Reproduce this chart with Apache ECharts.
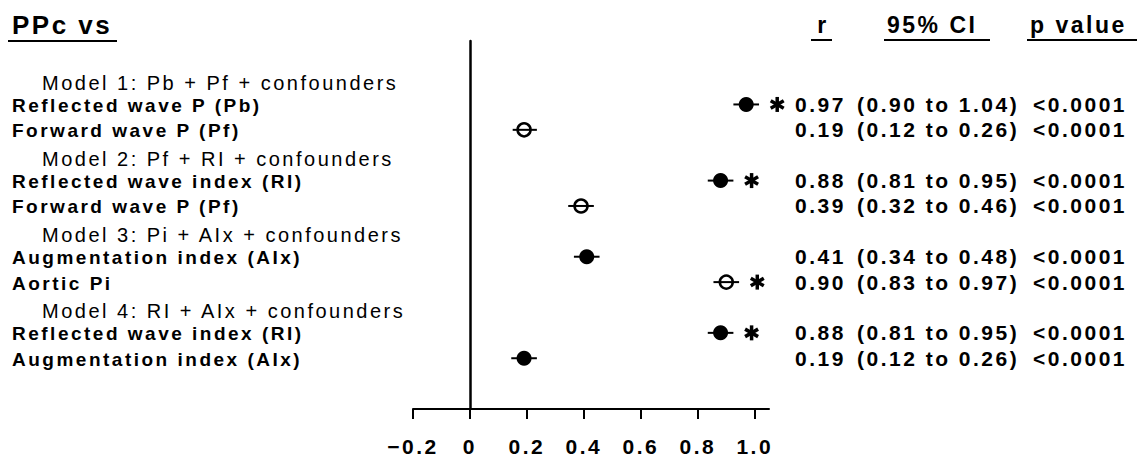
<!DOCTYPE html>
<html>
<head>
<meta charset="utf-8">
<script src="https://cdn.jsdelivr.net/npm/echarts@6/dist/echarts.min.js"></script>
<style>
html,body{margin:0;padding:0;background:#fff;}
#chart{width:1142px;height:457px;}
#chart text{letter-spacing:2.5px !important;}
</style>
</head>
<body>
<div id="chart"></div>
<script>
// ---- data ----
const leftTitle = 'PPc vs';
const columnHeaders = ['r', '95% CI', 'p value'];
const modelHeaders = [
  'Model 1: Pb + Pf + confounders',
  'Model 2: Pf + RI + confounders',
  'Model 3: Pi + AIx + confounders',
  'Model 4: RI + AIx + confounders'
];
const predictors = [
  'Reflected wave P (Pb)', 'Forward wave P (Pf)',
  'Reflected wave index (RI)', 'Forward wave P (Pf)',
  'Augmentation index (AIx)', 'Aortic Pi',
  'Reflected wave index (RI)', 'Augmentation index (AIx)'
];
const rValues = [0.97, 0.19, 0.88, 0.39, 0.41, 0.90, 0.88, 0.19];
const ciLow   = [0.90, 0.12, 0.81, 0.32, 0.34, 0.83, 0.81, 0.12];
const ciHigh  = [1.04, 0.26, 0.95, 0.46, 0.48, 0.97, 0.95, 0.26];
const pValues = ['<0.0001', '<0.0001', '<0.0001', '<0.0001', '<0.0001', '<0.0001', '<0.0001', '<0.0001'];
// whisker ends as drawn in the figure
const whiskerLow  = [0.925, 0.15, 0.835, 0.345, 0.365, 0.855, 0.835, 0.145];
const whiskerHigh = [1.015, 0.235, 0.925, 0.435, 0.455, 0.945, 0.925, 0.235];
const filledMarker = [true, false, true, false, true, false, true, true];
const significant  = [true, false, true, false, false, true, true, false];
const tickValues = [-0.2, 0, 0.2, 0.4, 0.6, 0.8, 1.0];
const tickLabels = ['\u22120.2', '0', '0.2', '0.4', '0.6', '0.8', '1.0'];

// ---- layout helpers ----
const FONT = '"Liberation Sans", Arial, Helvetica, sans-serif';
const rowOf = i => Math.floor(i / 2) * 3 + 1 + (i % 2);
const headerRowOf = g => g * 3;

const labelRows = [];
modelHeaders.forEach((h, g) => {
  labelRows.push({ row: headerRowOf(g), text: h, header: true });
  labelRows.push({ row: rowOf(2 * g), text: predictors[2 * g], header: false });
  labelRows.push({ row: rowOf(2 * g + 1), text: predictors[2 * g + 1], header: false });
});

const pts = rValues.map((r, i) => [r, rowOf(i), whiskerLow[i], whiskerHigh[i], i]);

const chart = echarts.init(document.getElementById('chart'), null, { renderer: 'svg' });

const option = {
  animation: false,
  backgroundColor: '#fff',
  grid: { left: 413, right: 373, top: 41, height: 370 },
  xAxis: {
    type: 'value', min: -0.2, max: 1.05,
    axisLine: { show: true, onZero: false, lineStyle: { color: '#000', width: 2 } },
    axisTick: { show: true, customValues: tickValues, length: 10, lineStyle: { color: '#000', width: 2 } },
    axisLabel: {
      customValues: tickValues, margin: 27, color: '#000',
      fontFamily: FONT, fontWeight: 'bold', fontSize: 21,
      formatter: v => { const k = tickValues.findIndex(t => Math.abs(t - v) < 1e-9); return k >= 0 ? tickLabels[k] : ''; }
    },
    splitLine: { show: false }
  },
  yAxis: {
    type: 'value', inverse: true, min: -1.5, max: 13,
    axisLine: { show: true, onZero: true, lineStyle: { color: '#000', width: 2.5 } },
    axisTick: { show: false }, axisLabel: { show: false }, splitLine: { show: false }
  },
  graphic: [
    { type: 'text', x: 12, y: 25, style: { text: leftTitle, font: 'bold 26px ' + FONT, fill: '#000', align: 'left', verticalAlign: 'middle' } },
    { type: 'line', shape: { x1: 8, y1: 41, x2: 117, y2: 41 }, style: { stroke: '#000', lineWidth: 2 } },
    { type: 'text', x: 823, y: 25, style: { text: columnHeaders[0], font: 'bold 23px ' + FONT, fill: '#000', align: 'center', verticalAlign: 'middle' } },
    { type: 'line', shape: { x1: 811, y1: 40, x2: 832, y2: 40 }, style: { stroke: '#000', lineWidth: 2 } },
    { type: 'text', x: 887, y: 25, style: { text: columnHeaders[1], font: 'bold 23px ' + FONT, fill: '#000', align: 'left', verticalAlign: 'middle' } },
    { type: 'line', shape: { x1: 884, y1: 40, x2: 990, y2: 40 }, style: { stroke: '#000', lineWidth: 2 } },
    { type: 'text', x: 1030, y: 25, style: { text: columnHeaders[2], font: 'bold 23px ' + FONT, fill: '#000', align: 'left', verticalAlign: 'middle' } },
    { type: 'line', shape: { x1: 1027, y1: 40, x2: 1137, y2: 40 }, style: { stroke: '#000', lineWidth: 2 } }
  ],
  series: [
    {
      name: 'filled', type: 'scatter', symbol: 'circle', symbolSize: 15, z: 3,
      itemStyle: { color: '#000', opacity: 1 },
      data: pts.filter(p => filledMarker[p[4]]).map(p => [p[0], p[1]])
    },
    {
      name: 'open', type: 'scatter', symbol: 'circle', symbolSize: 13, z: 3,
      itemStyle: { color: '#fff', borderColor: '#000', borderWidth: 2.5, opacity: 1 },
      data: pts.filter(p => !filledMarker[p[4]]).map(p => [p[0], p[1]])
    },
    {
      name: 'whiskers', type: 'custom', z: 4,
      encode: { x: 0, y: 1 },
      data: pts,
      renderItem: (params, api) => {
        const a = api.coord([api.value(2), api.value(1)]);
        const b = api.coord([api.value(3), api.value(1)]);
        return { type: 'line', shape: { x1: a[0], y1: a[1], x2: b[0], y2: b[1] }, style: { stroke: '#000', lineWidth: 2 } };
      }
    },
    {
      name: 'asterisks', type: 'custom', z: 4,
      encode: { x: 0, y: 1 },
      data: pts.filter(p => significant[p[4]]),
      renderItem: (params, api) => {
        const c = api.coord([api.value(0), api.value(1)]);
        const cx = c[0] + 31, cy = c[1], R = 7.5;
        const arms = [90, 30, 150].map(deg => {
          const t = deg * Math.PI / 180;
          return { type: 'line', shape: { x1: cx - R * Math.cos(t), y1: cy - R * Math.sin(t), x2: cx + R * Math.cos(t), y2: cy + R * Math.sin(t) }, style: { stroke: '#000', lineWidth: 3.5 } };
        });
        return { type: 'group', children: arms };
      }
    },
    {
      name: 'rowLabels', type: 'custom', z: 5,
      encode: { x: 0, y: 1 },
      data: labelRows.map(l => [0, l.row]),
      renderItem: (params, api) => {
        const l = labelRows[params.dataIndex];
        const c = api.coord([0, api.value(1)]);
        return {
          type: 'text', x: l.header ? 42 : 12, y: c[1] + (l.header ? 4 : 1),
          style: {
            text: l.text, fill: '#000', align: 'left', verticalAlign: 'middle',
            font: (l.header ? 'normal 20px ' : 'bold 19px ') + FONT
          }
        };
      }
    },
    {
      name: 'statText', type: 'custom', z: 5,
      encode: { x: 0, y: 1 },
      data: pts,
      renderItem: (params, api) => {
        const i = api.value(4);
        const c = api.coord([0, api.value(1)]);
        const f = 'bold 21px ' + FONT;
        const mk = (x, t) => ({ type: 'text', x: x, y: c[1], style: { text: t, fill: '#000', align: 'left', verticalAlign: 'middle', font: f } });
        return {
          type: 'group', children: [
            mk(795, rValues[i].toFixed(2)),
            mk(857, '(' + ciLow[i].toFixed(2) + ' to ' + ciHigh[i].toFixed(2) + ')'),
            mk(1033, pValues[i])
          ]
        };
      }
    }
  ]
};
chart.setOption(option);
</script>
</body>
</html>
